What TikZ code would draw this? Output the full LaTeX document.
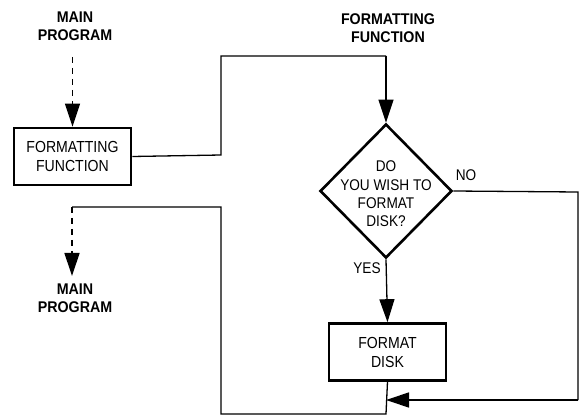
\documentclass[tikz,border=0pt]{standalone}
\usepackage{fontspec}
\setmainfont{Liberation Sans}[FakeStretch=0.88]
\newfontfamily\lblfont{Liberation Sans Bold}[FakeStretch=0.92]
\usetikzlibrary{arrows.meta,shapes.geometric}
\begin{document}
\begin{tikzpicture}[x=1pt,y=-1pt,
  box/.style={draw,line width=2.6pt,minimum width=117pt,minimum height=57pt,inner sep=0pt,align=center,font=\fontsize{16}{19}\selectfont},
  dia/.style={draw,diamond,line width=2.6pt,minimum width=132pt,minimum height=134pt,inner sep=0pt},
  dtxt/.style={align=center,inner sep=0pt,font=\fontsize{15.5}{18.3}\selectfont},
  lbl/.style={align=center,inner sep=0pt,font=\lblfont\fontsize{15.5}{18.5}\selectfont},
  plain/.style={inner sep=0pt,font=\fontsize{15.5}{18.5}\selectfont},
  tip/.style={-{Triangle[length=23pt,width=15pt]}},
  conn/.style={line width=1.3pt},
  arr/.style={conn,tip},
  dsh/.style={line width=1.3pt,dash pattern=on 6pt off 5pt},
]
\useasboundingbox (0,0) rectangle (582,417);
% nodes
\node[lbl] (mp1) at (75,26) {MAIN\\PROGRAM};
\node[lbl] (ff) at (388,28) {FORMATTING\\FUNCTION};
\node[box] (f1) at (72.5,156.5) {FORMATTING\\FUNCTION};
\node[dia] (d) at (386,191) {};
\node[dtxt] (dt) at (386,194) {DO\\YOU WISH TO\\FORMAT\\DISK?};
\node[plain] (no) at (466,175) {NO};
\node[plain] (yes) at (367,268) {YES};
\node[box] (f2) at (387.5,352) {FORMAT\\DISK};
\node[lbl] (mp2) at (75,298) {MAIN\\PROGRAM};
% coordinates
\coordinate (c1) at (221,155);
\coordinate (c2) at (221,56);
\coordinate (c3) at (386,56);
\coordinate (r1) at (578,192);
\coordinate (r2) at (578,400);
\coordinate (j) at (386,400);
\coordinate (b1) at (386,414);
\coordinate (b2) at (221,414);
\coordinate (b3) at (221,207);
\coordinate (b4) at (72,207);
\coordinate (m2top) at (72,276);
% connectors
\draw[dsh,tip] (mp1.south -| f1.north) ++(0,16) -- (f1.north);
\draw[conn] (f1.east) -- (c1) -- (c2) -- (c3);
\draw[arr] (c3) -- (d.north);
\draw[conn] (d.east) -- (r1) -- (r2);
\draw[arr] (r2) -- (j);
\draw[arr] (d.south) -- (f2.north);
\draw[conn] (f2.south) -- (b1) -- (b2) -- (b3) -- (b4);
\draw[dsh,tip] (b4) -- (m2top);
\end{tikzpicture}
\end{document}
